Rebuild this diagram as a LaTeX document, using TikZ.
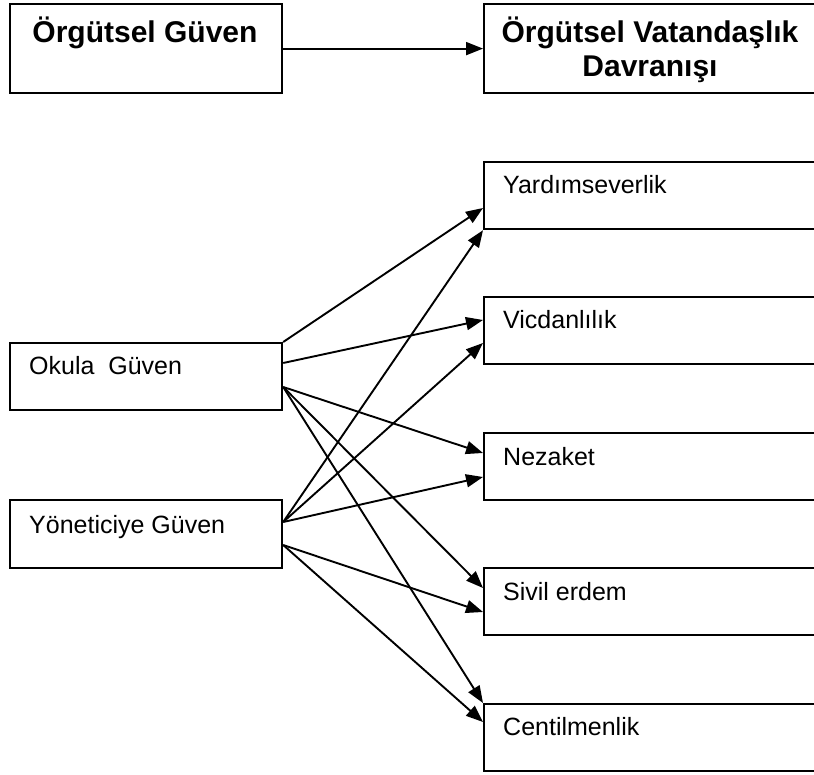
\documentclass[tikz,border=0pt]{standalone}
\usepackage{fontspec}
\setmainfont{Liberation Sans}
\usetikzlibrary{arrows.meta}
\begin{document}
\begin{tikzpicture}[x=1pt,y=-1pt,
  box/.style={draw, line width=2.2pt, rectangle, inner sep=0pt, anchor=north west},
  lbl/.style={anchor=base west, inner sep=0pt, font=\fontsize{25}{30}\selectfont},
  head/.style={inner sep=0pt, font=\fontsize{30}{34}\selectfont\bfseries, align=center},
  link/.style={line width=1.9pt, -{Triangle[length=17pt,width=13pt]}}]
\useasboundingbox (0,0) rectangle (814,775);

% top level: trust -> citizenship behaviour
\node[box, minimum width=272pt, minimum height=89pt] (og) at (9,3) {};
\node[box, minimum width=336pt, minimum height=89pt] (ovd) at (483,3) {};
\node[head, anchor=base] (ogt) at (145,43) {Örgütsel Güven};
\node[head, anchor=center] (ovdt) at (650,50) {Örgütsel Vatandaşlık\\Davranışı};
\draw[link] (og.east) -- (ovd.west);

% trust dimensions
\node[box, minimum width=272pt, minimum height=67pt] (okula) at (9,342) {};
\node[box, minimum width=272pt, minimum height=68pt] (yon) at (9,499) {};
\node[lbl] (okulat) at (29,375) {Okula\ \ Güven};
\node[lbl] (yont) at (29,533) {Yöneticiye Güven};

% citizenship behaviour dimensions
\node[box, minimum width=336pt, minimum height=67pt] (yard) at (483,161) {};
\node[box, minimum width=336pt, minimum height=67pt] (vicd) at (483,296) {};
\node[box, minimum width=336pt, minimum height=67pt] (nez) at (483,432) {};
\node[box, minimum width=336pt, minimum height=67pt] (sivil) at (483,567) {};
\node[box, minimum width=336pt, minimum height=67pt] (cent) at (483,703) {};
\node[lbl] (yardt) at (503,194) {Yardımseverlik};
\node[lbl] (vicdt) at (503,329) {Vicdanlılık};
\node[lbl] (nezt) at (503,465) {Nezaket};
\node[lbl] (sivilt) at (503,600) {Sivil erdem};
\node[lbl] (centt) at (503,735) {Centilmenlik};

% links from trust in school
\draw[link] (okula.north east) -- ([yshift=-47pt]yard.north west);
\draw[link] ([yshift=-21pt]okula.north east) -- ([yshift=-24pt]vicd.north west);
\draw[link] ([yshift=-45pt]okula.north east) -- ([yshift=-21pt]nez.north west);
\draw[link] ([yshift=-45pt]okula.north east) -- ([yshift=-21pt]sivil.north west);
\draw[link] ([yshift=-45pt]okula.north east) -- (cent.north west);

% links from trust in the principal
\draw[link] ([yshift=-23pt]yon.north east) -- (yard.south west);
\draw[link] ([yshift=-23pt]yon.north east) -- ([yshift=-47pt]vicd.north west);
\draw[link] ([yshift=-23pt]yon.north east) -- ([yshift=-45pt]nez.north west);
\draw[link] ([yshift=-46pt]yon.north east) -- ([yshift=-45pt]sivil.north west);
\draw[link] ([yshift=-46pt]yon.north east) -- ([yshift=-19pt]cent.north west);
\end{tikzpicture}
\end{document}
